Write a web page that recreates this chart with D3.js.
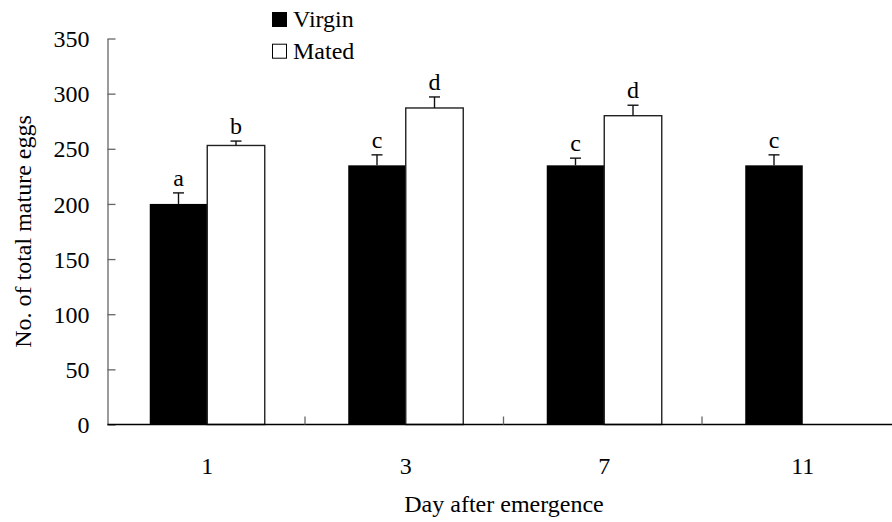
<!DOCTYPE html>
<html>
<head>
<meta charset="utf-8">
<script src="https://cdn.jsdelivr.net/npm/d3@7"></script>
<style>
    body { margin: 0; background: #fff; }
    svg text { font-family: "Liberation Serif", "Times New Roman", serif; fill: #000; }
</style>
</head>
<body>
<svg id="chart" width="892" height="522"></svg>
<script>
const days = ["1", "3", "7", "11"];
const seriesNames = ["Virgin", "Mated"];
const virginEggs = [200, 235, 235, 235];
const virginErr = [10, 9.5, 6.5, 9.5];
const matedEggs = [253, 287, 280, null];
const matedErr = [4, 10, 9.5, null];
const virginLetters = ["a", "c", "c", "c"];
const matedLetters = ["b", "d", "d", null];
const yTicks = [0, 50, 100, 150, 200, 250, 300, 350];
const fontSize = "24px";

const svg = d3.select("#chart");
const margin = {top: 38.5, left: 107.5, bottom: 97.5};
const plotH = 522 - margin.top - margin.bottom;

const x0 = d3.scaleBand().domain(days).range([108, 902]).paddingInner(0).paddingOuter(0);
const x1 = d3.scaleBand().domain(seriesNames).range([0, x0.bandwidth()]).paddingInner(0).paddingOuter(0.726);
const y = d3.scaleLinear().domain([0, 350]).range([margin.top + plotH, margin.top]);

const rows = [];
days.forEach((d, i) => {
    rows.push({day: d, series: "Virgin", value: virginEggs[i], err: virginErr[i], letter: virginLetters[i]});
    if (matedEggs[i] !== null) {
        rows.push({day: d, series: "Mated", value: matedEggs[i], err: matedErr[i], letter: matedLetters[i]});
    }
});

// bars
svg.append("g").selectAll("rect").data(rows).join("rect")
    .attr("x", d => x0(d.day) + x1(d.series))
    .attr("y", d => y(d.value))
    .attr("width", x1.bandwidth())
    .attr("height", d => y(0) - y(d.value))
    .attr("fill", d => d.series === "Virgin" ? "#000" : "#fff")
    .attr("stroke", d => d.series === "Virgin" ? "none" : "#222")
    .attr("stroke-width", 1.4);

// error bars (upper only)
const errG = svg.append("g").attr("stroke", "#111").attr("stroke-width", 1.4);
const cx = d => x0(d.day) + x1(d.series) + x1.bandwidth() / 2;
errG.selectAll(".stem").data(rows).join("line").attr("class", "stem")
    .attr("x1", cx).attr("x2", cx)
    .attr("y1", d => y(d.value)).attr("y2", d => y(d.value + d.err));
errG.selectAll(".cap").data(rows).join("line").attr("class", "cap")
    .attr("x1", d => cx(d) - 5.5).attr("x2", d => cx(d) + 5.5)
    .attr("y1", d => y(d.value + d.err)).attr("y2", d => y(d.value + d.err));

// significance letters
svg.append("g").selectAll("text").data(rows).join("text")
    .attr("x", cx)
    .attr("y", d => y(d.value + d.err) - 7)
    .attr("text-anchor", "middle")
    .style("font-size", fontSize)
    .text(d => d.letter);

// y axis
const yAxis = svg.append("g")
    .attr("transform", `translate(${margin.left},0)`)
    .call(d3.axisLeft(y).tickValues(yTicks).tickSizeInner(-8).tickSizeOuter(0).tickPadding(18));
yAxis.select(".domain").attr("stroke", "#666").attr("stroke-width", 1.3);
yAxis.selectAll(".tick line").attr("stroke", "#666").attr("stroke-width", 1.3);
yAxis.selectAll(".tick text").style("font-size", fontSize).attr("dy", "0.34em");

// x axis
const xAxis = svg.append("g")
    .attr("transform", `translate(0,${y(0)})`)
    .call(d3.axisBottom(x0).tickSize(0).tickPadding(32));
xAxis.select(".domain").attr("d", `M${margin.left},0H892`).attr("stroke", "#000").attr("stroke-width", 1.4);
xAxis.selectAll(".tick text").style("font-size", fontSize);

// category separators
svg.append("g").selectAll("line").data(days.slice(1)).join("line")
    .attr("x1", d => x0(d) - 1.5).attr("x2", d => x0(d) - 1.5)
    .attr("y1", y(0)).attr("y2", y(0) - 8)
    .attr("stroke", "#666").attr("stroke-width", 1.3);

// axis titles
svg.append("text")
    .attr("transform", `translate(31,${(y(0) + y(350)) / 2}) rotate(-90)`)
    .attr("text-anchor", "middle")
    .style("font-size", fontSize)
    .text("No. of total mature eggs");

svg.append("text")
    .attr("x", 504).attr("y", 512)
    .attr("text-anchor", "middle")
    .style("font-size", fontSize)
    .text("Day after emergence");

// legend
const legend = svg.append("g").attr("transform", "translate(272,12)");
seriesNames.forEach((s, i) => {
    const g = legend.append("g").attr("transform", `translate(0,${i * 31.7})`);
    g.append("rect").attr("x", 0.5).attr("y", 0.5).attr("width", 14).attr("height", 14)
        .attr("fill", s === "Virgin" ? "#000" : "#fff")
        .attr("stroke", "#000").attr("stroke-width", 1);
    g.append("text").attr("x", 21).attr("y", 15).style("font-size", fontSize).text(s);
});
</script>
</body>
</html>
